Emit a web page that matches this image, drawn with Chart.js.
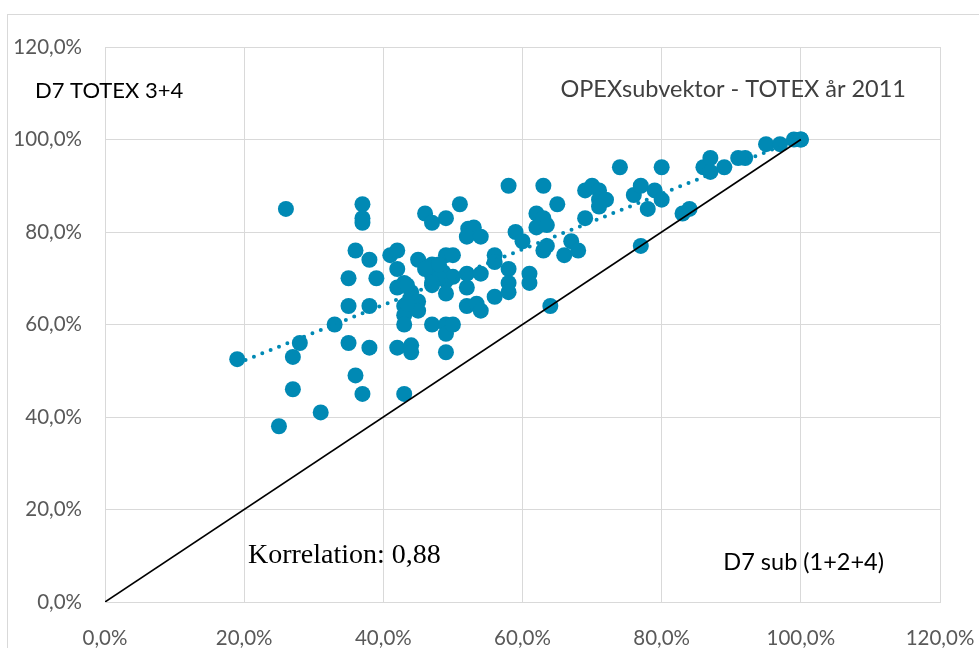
<!DOCTYPE html>
<html>
<head>
<meta charset="utf-8">
<script src="https://cdn.jsdelivr.net/npm/chart.js@4/dist/chart.umd.min.js"></script>
<style>
  html, body { margin: 0; padding: 0; background: #ffffff; }
  #wrap { width: 979px; height: 648px; position: relative; }
</style>
</head>
<body>
<div id="wrap"><canvas id="c" width="979" height="648"></canvas></div>
<script>
// D7 sub (1+2+4) share per company (x, %)
const subShare = [
  19, 25, 26, 27, 27, 28, 31, 33, 35, 35, 35, 36, 36, 37, 37, 37, 37, 38, 38, 38,
  39, 41, 42, 42, 42, 42, 43, 43, 43, 43, 43, 44, 44, 45, 45, 45, 46, 47, 47, 47,
  47, 47, 48.6, 49, 49, 49, 49, 49, 49, 49, 50, 50, 50, 51, 52.2, 53, 52, 54, 52, 52,
  52, 53.4, 54, 54, 56, 56, 56, 58, 58, 58, 58, 59, 60, 61, 61, 62, 63, 62, 63.5, 63,
  63.5, 63, 64, 65, 66, 67, 68, 69, 69, 70, 71, 71, 72, 71, 74, 76, 77, 77, 78, 79,
  80, 80, 83, 84, 86, 87, 87, 89, 91, 92, 95, 97, 99, 100, 100,
  46, 48, 47, 48, 44, 43.4, 43.4
];
// D7 TOTEX 3+4 share per company (y, %)
const totexShare = [
  52.5, 38, 85, 53, 46, 56, 41, 60, 70, 64, 56, 76, 49, 86, 83, 82, 45, 74, 64, 55,
  70, 75, 76, 72, 68, 55, 69, 64, 62, 60, 45, 55.5, 54, 74, 65, 63, 84, 82, 73, 70.6,
  68.5, 60, 71.3, 83, 75, 69.5, 66.7, 60, 58, 54, 75, 70.3, 60, 86, 80.7, 81, 79, 79, 71, 68,
  64, 64.5, 63, 71, 75, 73.5, 66, 90, 72, 69, 67, 80, 78, 71, 69, 84, 83, 81, 81.5, 76,
  77, 90, 64, 86, 75, 78, 76, 83, 89, 90, 89, 87, 87, 85.5, 94, 88, 90, 77, 85, 89,
  87, 94, 84, 85, 94, 96, 93, 94, 96, 96, 99, 99, 100, 100, 100,
  72, 70, 69, 73, 67, 68.5, 64.5
];
// linear trend line end points
const trendX = [19, 100];
const trendY = [51.6, 100.3];
// reference line x = y
const diagX = [0, 100];
const diagY = [0, 100];
// axis tick values (%)
const axisTicks = [0, 20, 40, 60, 80, 100, 120];

const pts = subShare.map((x, i) => ({ x: x, y: totexShare[i] }));
const trend = trendX.map((x, i) => ({ x: x, y: trendY[i] }));
const diag = diagX.map((x, i) => ({ x: x, y: diagY[i] }));

const fmtPct = v => v.toFixed(1).replace('.', ',') + '%';
const setTicks = scale => { scale.ticks = axisTicks.map(v => ({ value: v })); };

const gridColor = '#d9d9d9';
const tickFont = { family: 'Lato', size: 20.5 };

// free text boxes placed on the chart
const notes = [
  { text: 'D7 TOTEX 3+4', x: 35, y: 91, align: 'left', font: '22px Lato', color: '#000000' },
  { text: 'OPEXsubvektor - TOTEX år 2011', x: 906, y: 89, align: 'right', font: '23.5px Lato', color: '#404040' },
  { text: 'Korrelation: 0,88', x: 248, y: 556, align: 'left', font: '28px "Liberation Serif"', color: '#000000' },
  { text: 'D7 sub (1+2+4)', x: 884, y: 562, align: 'right', font: '23.5px Lato', color: '#000000' }
];

const decorations = {
  id: 'decorations',
  beforeDraw(chart) {
    const ctx = chart.ctx;
    ctx.save();
    ctx.fillStyle = '#ffffff';
    ctx.fillRect(0, 0, chart.width, chart.height);
    ctx.strokeStyle = gridColor;
    ctx.lineWidth = 1;
    ctx.strokeRect(7.5, 14.5, 1200, 1200);
    ctx.restore();
  },
  afterDraw(chart) {
    const ctx = chart.ctx;
    ctx.save();
    ctx.textBaseline = 'middle';
    notes.forEach(n => {
      ctx.font = n.font;
      ctx.fillStyle = n.color;
      ctx.textAlign = n.align;
      ctx.fillText(n.text, n.x, n.y);
    });
    ctx.restore();
  }
};

new Chart(document.getElementById('c'), {
  type: 'scatter',
  data: {
    datasets: [
      {
        label: 'x = y',
        type: 'line',
        data: diag,
        borderColor: '#000000',
        borderWidth: 1.6,
        pointRadius: 0,
        fill: false
      },
      {
        label: 'Trend',
        type: 'line',
        data: trend,
        borderColor: '#0089b4',
        borderWidth: 4,
        borderDash: [0, 9],
        borderCapStyle: 'round',
        pointRadius: 0,
        fill: false
      },
      {
        label: 'OPEXsubvektor',
        data: pts,
        backgroundColor: '#0089b4',
        borderColor: '#0089b4',
        borderWidth: 0,
        pointRadius: 8,
        pointHoverRadius: 8
      }
    ]
  },
  options: {
    responsive: false,
    devicePixelRatio: 1,
    animation: false,
    layout: { padding: { top: 47, right: 39, left: 0, bottom: 0 } },
    plugins: {
      legend: { display: false },
      tooltip: { enabled: false }
    },
    scales: {
      x: {
        type: 'linear',
        min: 0,
        max: 120,
        afterBuildTicks: setTicks,
        afterFit: s => { s.height = 46; s.paddingLeft = 0; s.paddingRight = 0; },
        grid: { color: gridColor, lineWidth: 1, drawTicks: false },
        border: { display: true, color: gridColor, width: 1 },
        ticks: { font: tickFont, color: '#595959', padding: 24, callback: fmtPct, maxRotation: 0 }
      },
      y: {
        type: 'linear',
        min: 0,
        max: 120,
        afterBuildTicks: setTicks,
        afterFit: s => { s.width = 105; s.paddingTop = 0; s.paddingBottom = 0; },
        grid: { color: gridColor, lineWidth: 1, drawTicks: false },
        border: { display: true, color: gridColor, width: 1 },
        ticks: { font: tickFont, color: '#595959', padding: 23, callback: fmtPct }
      }
    }
  },
  plugins: [decorations]
});
</script>
</body>
</html>
